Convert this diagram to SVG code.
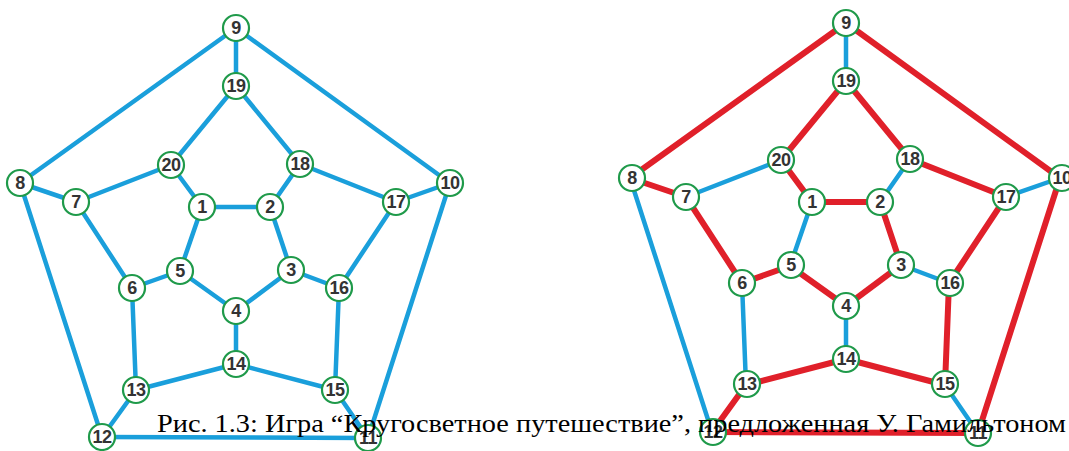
<svg xmlns="http://www.w3.org/2000/svg" width="1069" height="451" viewBox="0 0 1069 451">
<style>
.b{stroke:#1a9fdb;stroke-width:4.5;stroke-linecap:round}
.r{stroke:#e0202a;stroke-width:6;stroke-linecap:round}
.n circle{fill:#fff;stroke:#1f9a4a;stroke-width:2.2}
.n text{font-family:"Liberation Sans",Arial,sans-serif;font-size:18px;font-weight:bold;fill:#333;text-anchor:middle;dominant-baseline:central;letter-spacing:-0.5px}
.cap{font-family:"Liberation Serif","Times New Roman",serif;font-size:26px;fill:#000}
</style>
<g id="connectors-left">
<line class="b" x1="236" y1="28" x2="20" y2="183"/>
<line class="b" x1="236" y1="28" x2="450" y2="183"/>
<line class="b" x1="236" y1="28" x2="236" y2="86"/>
<line class="b" x1="20" y1="183" x2="102" y2="437"/>
<line class="b" x1="20" y1="183" x2="76" y2="202"/>
<line class="b" x1="450" y1="183" x2="368" y2="438"/>
<line class="b" x1="450" y1="183" x2="396" y2="202"/>
<line class="b" x1="102" y1="437" x2="368" y2="438"/>
<line class="b" x1="102" y1="437" x2="136" y2="390"/>
<line class="b" x1="368" y1="438" x2="335" y2="390"/>
<line class="b" x1="236" y1="86" x2="171" y2="165"/>
<line class="b" x1="236" y1="86" x2="300" y2="164"/>
<line class="b" x1="171" y1="165" x2="76" y2="202"/>
<line class="b" x1="171" y1="165" x2="202" y2="207"/>
<line class="b" x1="300" y1="164" x2="396" y2="202"/>
<line class="b" x1="300" y1="164" x2="270" y2="207"/>
<line class="b" x1="76" y1="202" x2="132" y2="288"/>
<line class="b" x1="396" y1="202" x2="339" y2="288"/>
<line class="b" x1="202" y1="207" x2="270" y2="207"/>
<line class="b" x1="202" y1="207" x2="180" y2="271"/>
<line class="b" x1="270" y1="207" x2="291" y2="270"/>
<line class="b" x1="180" y1="271" x2="132" y2="288"/>
<line class="b" x1="180" y1="271" x2="236" y2="311"/>
<line class="b" x1="291" y1="270" x2="339" y2="288"/>
<line class="b" x1="291" y1="270" x2="236" y2="311"/>
<line class="b" x1="236" y1="311" x2="236" y2="364"/>
<line class="b" x1="132" y1="288" x2="136" y2="390"/>
<line class="b" x1="339" y1="288" x2="335" y2="390"/>
<line class="b" x1="236" y1="364" x2="136" y2="390"/>
<line class="b" x1="236" y1="364" x2="335" y2="390"/>
</g>
<g id="connectors-right" transform="translate(610,-5)">
<line class="b" x1="236" y1="28" x2="236" y2="86"/>
<line class="b" x1="20" y1="183" x2="102" y2="437"/>
<line class="b" x1="450" y1="183" x2="396" y2="202"/>
<line class="b" x1="368" y1="438" x2="335" y2="390"/>
<line class="b" x1="171" y1="165" x2="76" y2="202"/>
<line class="b" x1="300" y1="164" x2="270" y2="207"/>
<line class="b" x1="202" y1="207" x2="180" y2="271"/>
<line class="b" x1="291" y1="270" x2="339" y2="288"/>
<line class="b" x1="236" y1="311" x2="236" y2="364"/>
<line class="b" x1="132" y1="288" x2="136" y2="390"/>
<line class="r" x1="236" y1="28" x2="20" y2="183"/>
<line class="r" x1="236" y1="28" x2="450" y2="183"/>
<line class="r" x1="20" y1="183" x2="76" y2="202"/>
<line class="r" x1="450" y1="183" x2="368" y2="438"/>
<line class="r" x1="102" y1="437" x2="368" y2="438"/>
<line class="r" x1="102" y1="437" x2="136" y2="390"/>
<line class="r" x1="236" y1="86" x2="171" y2="165"/>
<line class="r" x1="236" y1="86" x2="300" y2="164"/>
<line class="r" x1="171" y1="165" x2="202" y2="207"/>
<line class="r" x1="300" y1="164" x2="396" y2="202"/>
<line class="r" x1="76" y1="202" x2="132" y2="288"/>
<line class="r" x1="396" y1="202" x2="339" y2="288"/>
<line class="r" x1="202" y1="207" x2="270" y2="207"/>
<line class="r" x1="270" y1="207" x2="291" y2="270"/>
<line class="r" x1="180" y1="271" x2="132" y2="288"/>
<line class="r" x1="180" y1="271" x2="236" y2="311"/>
<line class="r" x1="291" y1="270" x2="236" y2="311"/>
<line class="r" x1="339" y1="288" x2="335" y2="390"/>
<line class="r" x1="236" y1="364" x2="136" y2="390"/>
<line class="r" x1="236" y1="364" x2="335" y2="390"/>
</g>
<g id="nodes-left">
<g id="L1" class="n" transform="translate(202,207)"><circle r="13"/><text>1</text></g>
<g id="L2" class="n" transform="translate(270,207)"><circle r="13"/><text>2</text></g>
<g id="L3" class="n" transform="translate(291,270)"><circle r="13"/><text>3</text></g>
<g id="L4" class="n" transform="translate(236,311)"><circle r="13"/><text>4</text></g>
<g id="L5" class="n" transform="translate(180,271)"><circle r="13"/><text>5</text></g>
<g id="L6" class="n" transform="translate(132,288)"><circle r="13"/><text>6</text></g>
<g id="L7" class="n" transform="translate(76,202)"><circle r="13"/><text>7</text></g>
<g id="L8" class="n" transform="translate(20,183)"><circle r="13"/><text>8</text></g>
<g id="L9" class="n" transform="translate(236,28)"><circle r="13"/><text>9</text></g>
<g id="L10" class="n" transform="translate(450,183)"><circle r="13"/><text>10</text></g>
<g id="L11" class="n" transform="translate(368,438)"><circle r="13"/><text>11</text></g>
<g id="L12" class="n" transform="translate(102,437)"><circle r="13"/><text>12</text></g>
<g id="L13" class="n" transform="translate(136,390)"><circle r="13"/><text>13</text></g>
<g id="L14" class="n" transform="translate(236,364)"><circle r="13"/><text>14</text></g>
<g id="L15" class="n" transform="translate(335,390)"><circle r="13"/><text>15</text></g>
<g id="L16" class="n" transform="translate(339,288)"><circle r="13"/><text>16</text></g>
<g id="L17" class="n" transform="translate(396,202)"><circle r="13"/><text>17</text></g>
<g id="L18" class="n" transform="translate(300,164)"><circle r="13"/><text>18</text></g>
<g id="L19" class="n" transform="translate(236,86)"><circle r="13"/><text>19</text></g>
<g id="L20" class="n" transform="translate(171,165)"><circle r="13"/><text>20</text></g>
</g>
<g id="nodes-right" transform="translate(610,-5)">
<g id="R1" class="n" transform="translate(202,207)"><circle r="13"/><text>1</text></g>
<g id="R2" class="n" transform="translate(270,207)"><circle r="13"/><text>2</text></g>
<g id="R3" class="n" transform="translate(291,270)"><circle r="13"/><text>3</text></g>
<g id="R4" class="n" transform="translate(236,311)"><circle r="13"/><text>4</text></g>
<g id="R5" class="n" transform="translate(181,270)"><circle r="13"/><text>5</text></g>
<g id="R6" class="n" transform="translate(132,288)"><circle r="13"/><text>6</text></g>
<g id="R7" class="n" transform="translate(76,202)"><circle r="13"/><text>7</text></g>
<g id="R8" class="n" transform="translate(22,183)"><circle r="13"/><text>8</text></g>
<g id="R9" class="n" transform="translate(236,28)"><circle r="13"/><text>9</text></g>
<g id="R10" class="n" transform="translate(452,183)"><circle r="13"/><text>10</text></g>
<g id="R11" class="n" transform="translate(368,438)"><circle r="13"/><text>11</text></g>
<g id="R12" class="n" transform="translate(103,437)"><circle r="13"/><text>12</text></g>
<g id="R13" class="n" transform="translate(137,389)"><circle r="13"/><text>13</text></g>
<g id="R14" class="n" transform="translate(236,364)"><circle r="13"/><text>14</text></g>
<g id="R15" class="n" transform="translate(335,389)"><circle r="13"/><text>15</text></g>
<g id="R16" class="n" transform="translate(340,288)"><circle r="13"/><text>16</text></g>
<g id="R17" class="n" transform="translate(396,202)"><circle r="13"/><text>17</text></g>
<g id="R18" class="n" transform="translate(300,164)"><circle r="13"/><text>18</text></g>
<g id="R19" class="n" transform="translate(236,86)"><circle r="13"/><text>19</text></g>
<g id="R20" class="n" transform="translate(171,165)"><circle r="13"/><text>20</text></g>
</g>
<text id="caption" class="cap" x="157" y="432" textLength="909" lengthAdjust="spacingAndGlyphs">Рис. 1.3: Игра “Кругосветное путешествие”, предложенная У. Гамильтоном</text>
</svg>
